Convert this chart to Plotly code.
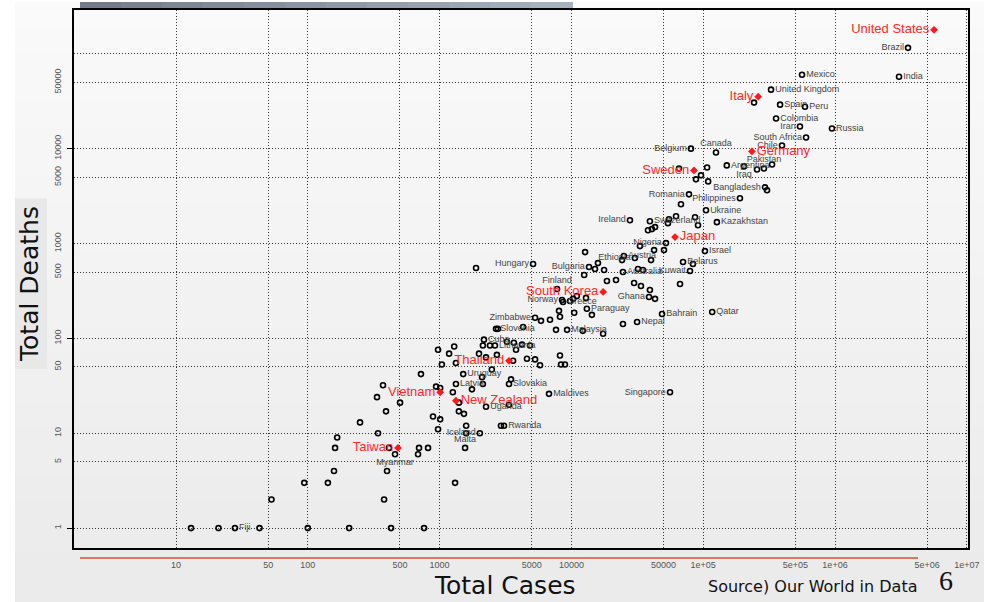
import plotly.graph_objects as go

# Total cases vs total deaths by country (Our World in Data)

# labelled countries (black)
names = ["Brazil", "India", "Mexico", "United Kingdom", "Spain", "Peru", "Colombia", "Iran",
         "Russia", "South Africa", "Chile", "Belgium", "Canada", "Argentina", "Iraq", "Pakistan",
         "Bangladesh", "Romania", "Philippines", "Ukraine", "Ireland", "Kazakhstan", "Switzerland",
         "Nigeria", "Israel", "Austria", "Ethiopia", "Belarus", "Hungary", "Bulgaria", "Australia",
         "Kuwait", "Finland", "Ghana", "Norway", "Greece", "Paraguay", "Bahrain", "Qatar", "Nepal",
         "Zimbabwe", "Slovenia", "Malaysia", "Cuba", "Lithuania", "Uruguay", "Latvia", "Slovakia",
         "Maldives", "Uganda", "Rwanda", "Iceland", "Malta", "Myanmar", "Fiji", "Singapore"]
cases = [3580000, 3060000, 562000, 327000, 383000, 592000, 357000, 542000,
         948000, 603000, 396000, 80700, 125000, 151000, 204000, 289000,
         294000, 78000, 190000, 105000, 27800, 127000, 39400,
         52200, 103000, 25000, 30300, 70300, 5120, 13600, 24600,
         79400, 7780, 38800, 8490, 8640, 13100, 48700, 117000, 31500,
         5300, 2680, 9270, 2170, 2630, 1510, 1330, 3360,
         6760, 2250, 3080, 2020, 1560, 459, 28, 56000]
deaths = [115600, 57300, 60200, 41900, 29100, 27700, 20800, 17100,
          16300, 13100, 10800, 10000, 9120, 6660, 6500, 6190,
          3910, 3300, 3000, 2240, 1760, 1680, 1720,
          1010, 832, 738, 703, 638, 608, 565, 501,
          513, 332, 273, 254, 242, 205, 181, 190, 149,
          165, 126, 123, 97, 84, 42, 33, 33,
          26, 19, 12, 10, 7, 6, 1, 27]

# highlighted countries (red)
hl_names = ["United States", "Italy", "Germany", "Sweden", "Japan", "South Korea",
            "Thailand", "Vietnam", "New Zealand", "Taiwan"]
hl_cases = [5640000, 261000, 234000, 85100, 61100, 17400, 3360, 1010, 1330, 483]
hl_deaths = [179000, 35300, 9350, 5900, 1170, 309, 58, 27, 22, 7]

# other countries (no label)
other_cases = [243000, 65500, 107000, 96200, 88100, 109000, 256000, 333000, 305000, 67800,
               55000, 54000, 62200, 86700, 91300, 43100, 40800, 38100, 33100, 42400,
               50400, 12700, 40200, 24200, 83600, 15900, 15100, 17700, 12500, 32000,
               34900, 18600, 21800, 29900, 33700, 39400, 66700, 43100, 9760, 10300,
               11000, 12900, 14300, 8050, 8190, 10500, 24600, 5880, 6880, 4300,
               7640, 12200, 17400, 1890, 2130, 2410, 3240, 3660, 4220, 4850,
               3800, 1290, 973, 1180, 1990, 2720, 2250, 4600, 5300, 8190,
               8340, 8930, 5780, 3610, 1330, 1040, 2490, 2100, 722, 3480,
               2130, 940, 1010, 1260, 1760, 1400, 1400, 1530, 3360, 2920,
               891, 1010, 973, 1590, 1590, 817, 698, 686, 501, 392,
               335, 372, 249, 341, 167, 161, 413, 158, 399, 94,
               142, 1310, 379, 53, 13, 21, 43, 100, 206, 428,
               762, 2770]
other_deaths = [30600, 6190, 6340, 5230, 4750, 4520, 6040, 6820, 3640, 2590,
                1800, 1640, 1940, 1890, 1560, 1490, 1420, 1380, 939, 853,
                853, 812, 669, 669, 608, 622, 538, 526, 466, 538,
                526, 403, 413, 384, 357, 324, 375, 261, 248, 261,
                280, 267, 177, 195, 169, 186, 142, 153, 157, 132,
                123, 120, 112, 552, 84, 84, 92, 90, 86, 84,
                76, 82, 76, 69, 69, 67, 63, 61, 60, 66,
                53, 53, 52, 58, 55, 53, 47, 39, 42, 37,
                33, 31, 30, 27, 29, 21, 17, 16, 20, 12,
                15, 14, 11, 12, 10, 7, 7, 6, 21, 17,
                24, 32, 13, 10, 9, 7, 7, 4, 4, 3,
                3, 3, 2, 2, 1, 1, 1, 1, 1, 1,
                1, 126]

x_ticks = [10, 50, 100, 500, 1000, 5000, 10000, 50000, 1e5, 5e5, 1e6, 5e6, 1e7]
x_ticktext = ["10", "50", "100", "500", "1000", "5000", "10000", "50000",
              "1e+05", "5e+05", "1e+06", "5e+06", "1e+07"]
y_ticks = [1, 5, 10, 50, 100, 500, 1000, 5000, 10000, 50000, 1e5]
y_ticktext = ["1", "5", "10", "50", "100", "500", "1000", "5000", "10000", "50000", ""]

# label placement
LEFT = {"Brazil", "Iran", "South Africa", "Chile", "Belgium", "Bangladesh", "Romania",
        "Philippines", "Ireland", "Nigeria", "Ethiopia", "Hungary", "Bulgaria", "Kuwait",
        "Ghana", "Norway", "Zimbabwe", "Iceland", "Singapore",
        "United States", "Italy", "Sweden", "South Korea", "Thailand", "Vietnam", "Taiwan"}
TOP = {"Canada", "Pakistan", "Finland", "Malta"}
BOTTOM = {"Iraq", "Myanmar"}


def side(n):
    if n in LEFT:
        return "middle left"
    if n in TOP:
        return "top center"
    if n in BOTTOM:
        return "bottom center"
    return "middle right"


# plot area in pixels
PX0, PX1, PY0, PY1 = 74, 968, 8, 548


def fx(p):
    return (p - PX0) / (PX1 - PX0)


def fy(p):
    return (PY1 - p) / (PY1 - PY0)


fig = go.Figure()

fig.add_trace(go.Scatter(
    x=other_cases, y=other_deaths, mode="markers",
    marker=dict(symbol="circle-open", size=5, color="black", line=dict(width=1.6)),
    hoverinfo="skip", showlegend=False))

fig.add_trace(go.Scatter(
    x=cases, y=deaths, mode="markers+text", text=names,
    textposition=[side(n) for n in names],
    textfont=dict(family="Liberation Sans, Arial", size=9, color="#444"),
    marker=dict(symbol="circle-open", size=5, color="black", line=dict(width=1.6)),
    showlegend=False, cliponaxis=False))

fig.add_trace(go.Scatter(
    x=hl_cases, y=hl_deaths, mode="markers+text", text=hl_names,
    textposition=[side(n) for n in hl_names],
    textfont=dict(family="Liberation Sans, Arial", size=13, color="#ff2a2a"),
    marker=dict(symbol="diamond", size=6, color="#ff1a1a"),
    showlegend=False, cliponaxis=False))

shapes = []
# slide background gradient
n_bands = 24
for i in range(n_bands):
    g = int(250 - 15 * i / (n_bands - 1))
    shapes.append(dict(type="rect", xref="paper", yref="paper", layer="below",
                       x0=fx(15), x1=fx(984), y0=fy(602 * i / n_bands), y1=fy(602 * (i + 1) / n_bands + 1),
                       fillcolor=f"rgb({g},{g},{g})", line=dict(width=0)))
# title bar at top
for i in range(12):
    t = i / 11
    r = int(118 + t * (166 - 118))
    gg = int(123 + t * (178 - 123))
    b = int(140 + t * (191 - 140))
    x0 = 80 + (572 - 80) * i / 12
    x1 = 80 + (572 - 80) * (i + 1) / 12 + 1
    shapes.append(dict(type="rect", xref="paper", yref="paper", layer="below",
                       x0=fx(x0), x1=fx(x1), y0=fy(7), y1=fy(0),
                       fillcolor=f"rgb({r},{gg},{b})", line=dict(width=0)))
# box behind y title
shapes.append(dict(type="rect", xref="paper", yref="paper", layer="below",
                   x0=fx(15), x1=fx(47), y0=fy(368), y1=fy(197),
                   fillcolor="#e8e8e8", line=dict(width=0)))
# accent line under plot
shapes.append(dict(type="line", xref="paper", yref="paper",
                   x0=fx(80), x1=fx(918), y0=fy(558), y1=fy(558),
                   line=dict(color="#e07565", width=2)))

annotations = [
    dict(text="Total Deaths", x=fx(30), y=fy(283), textangle=-90,
         font=dict(family="DejaVu Sans", size=25, color="#111")),
    dict(text="Total Cases", x=fx(505), y=fy(586),
         font=dict(family="DejaVu Sans", size=25, color="#111")),
    dict(text="Source) Our World in Data", x=fx(813), y=fy(587),
         font=dict(family="DejaVu Sans", size=16, color="#111")),
    dict(text="6", x=fx(946), y=fy(581),
         font=dict(family="Liberation Serif, DejaVu Serif", size=28, color="#111")),
]
for a in annotations:
    a.update(xref="paper", yref="paper", showarrow=False, xanchor="center", yanchor="middle")

fig.update_layout(
    width=993, height=602, autosize=False,
    margin=dict(l=PX0, r=993 - PX1, t=PY0, b=602 - PY1, pad=0),
    paper_bgcolor="white", plot_bgcolor="rgba(0,0,0,0)",
    shapes=shapes, annotations=annotations,
    font=dict(family="Liberation Sans, Arial", color="#444"),
)
fig.update_xaxes(
    type="log", range=[0.226, 7.009],
    tickmode="array", tickvals=x_ticks, ticktext=x_ticktext,
    tickfont=dict(size=9, color="#555"), ticks="", ticklabelstandoff=7,
    showgrid=True, gridcolor="#333", gridwidth=1, griddash="1px,2px",
    showline=True, linecolor="black", linewidth=2, mirror=True, zeroline=False)
fig.update_yaxes(
    type="log", range=[-0.210, 5.462],
    tickmode="array", tickvals=y_ticks, ticktext=y_ticktext, tickangle=-90,
    tickfont=dict(size=9, color="#555"), ticks="", ticklabelstandoff=7,
    minor=dict(tickmode="array", tickvals=[1, 100, 10000], ticks="outside",
               ticklen=5, tickcolor="black", tickwidth=1, showgrid=False),
    showgrid=True, gridcolor="#333", gridwidth=1, griddash="1px,2px",
    showline=True, linecolor="black", linewidth=2, mirror=True, zeroline=False)

# page body margin would shift the figure; remove it
fig.write_html("out.html", config={"displayModeBar": False},
               post_script="document.body.style.margin='0';")
